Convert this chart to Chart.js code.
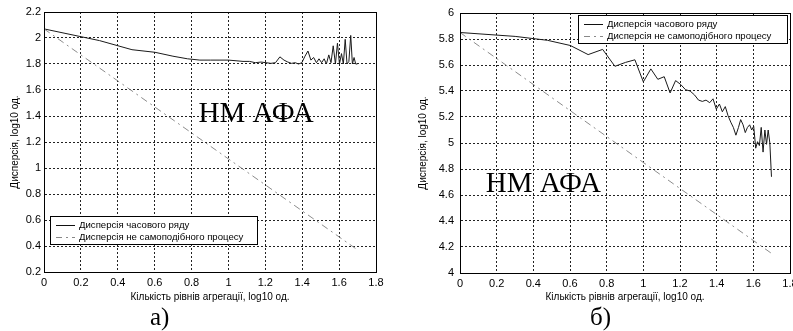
<!DOCTYPE html>
<html>
<head>
<meta charset="utf-8">
<script src="https://cdn.jsdelivr.net/npm/chart.js@4/dist/chart.umd.min.js"></script>
<style>
  body { margin: 0; background: #fff; }
  #wrap { position: relative; width: 793px; height: 331px; overflow: hidden; }
  #cA { position: absolute; left: 0; top: 0; }
  #cB { position: absolute; left: 395px; top: 0; }
  .cap { position: absolute; top: 303px; font: 25px "Liberation Serif", serif; color: #000; }
</style>
</head>
<body>
<div id="wrap">
  <canvas id="cA" width="395" height="331"></canvas>
  <canvas id="cB" width="425" height="331"></canvas>
  <div class="cap" style="left:150px">а)</div>
  <div class="cap" style="left:590px">б)</div>
</div>
<script>
// log10 of aggregation level m = 1..50
const levelsX = [0, 0.301, 0.477, 0.602, 0.699, 0.778, 0.845, 0.903, 0.954, 1.0,
  1.041, 1.079, 1.114, 1.146, 1.176, 1.204, 1.230, 1.255, 1.279, 1.301,
  1.322, 1.342, 1.362, 1.380, 1.398, 1.415, 1.431, 1.447, 1.462, 1.477,
  1.491, 1.505, 1.519, 1.531, 1.544, 1.556, 1.568, 1.580, 1.591, 1.602,
  1.613, 1.623, 1.633, 1.643, 1.653, 1.663, 1.672, 1.681, 1.690, 1.699];

// а) variance of time series
const varA = [2.07, 1.98, 1.91, 1.89, 1.86, 1.84, 1.83, 1.83, 1.83, 1.83,
  1.825, 1.82, 1.82, 1.81, 1.815, 1.81, 1.805, 1.81, 1.855, 1.83,
  1.815, 1.805, 1.81, 1.80, 1.81, 1.86, 1.90, 1.83, 1.85, 1.81,
  1.84, 1.81, 1.84, 1.80, 1.87, 1.81, 1.94, 1.80, 1.96, 1.80,
  1.88, 1.80, 1.99, 1.80, 1.82, 2.02, 1.80, 1.85, 1.80, 1.80];

// б) variance of time series
const varB = [5.85, 5.82, 5.79, 5.75, 5.68, 5.72, 5.59, 5.62, 5.64, 5.47,
  5.57, 5.49, 5.51, 5.385, 5.48, 5.45, 5.41, 5.40, 5.37, 5.33,
  5.32, 5.33, 5.31, 5.34, 5.26, 5.30, 5.24, 5.28, 5.21, 5.16,
  5.12, 5.06, 5.12, 5.18, 5.14, 5.08, 5.12, 5.14, 5.10, 5.13,
  4.96, 5.01, 4.98, 5.12, 4.93, 5.10, 4.99, 5.10, 5.00, 4.74];

// variance of non self-similar process (straight line ends)
const refX = [0, 1.7];
const refA = [2.07, 0.37];
const refB = [5.85, 4.15];

const xTicks = [0, 0.2, 0.4, 0.6, 0.8, 1, 1.2, 1.4, 1.6, 1.8];
const seriesNames = ['Дисперсія часового ряду', 'Дисперсія не самоподібного процесу'];
const xTitle = 'Кількість рівнів агрегації, log10 од.';
const yTitle = 'Дисперсія, log10 од.';
const label = 'НМ АФА';

const tickFont = { family: 'Liberation Sans, Arial, sans-serif', size: 11 };
const titleFont = { family: 'Liberation Sans, Arial, sans-serif', size: 10 };
const fmt = (v) => String(Number(v.toFixed(1)));

const boxPlugin = {
  id: 'boxPlugin',
  afterDraw(chart, args, opts) {
    const { ctx, chartArea: a, scales } = chart;
    ctx.save();
    ctx.strokeStyle = '#000';
    ctx.lineWidth = 1;
    ctx.setLineDash([]);
    ctx.strokeRect(Math.round(a.left) + 0.5, Math.round(a.top) + 0.5,
      Math.round(a.right - a.left), Math.round(a.bottom - a.top));

    // text label
    ctx.fillStyle = '#000';
    ctx.font = '29px "Liberation Serif", serif';
    ctx.textAlign = 'center';
    ctx.textBaseline = 'middle';
    ctx.fillText(label, scales.x.getPixelForValue(opts.textX), scales.y.getPixelForValue(opts.textY));

    // legend
    const w = opts.legW, h = 28;
    const lx = opts.legRight ? a.right - 3 - w : a.left + 6;
    const ly = opts.legRight ? a.top + 2 : a.bottom - 28 - h;
    ctx.fillStyle = '#fff';
    ctx.fillRect(lx, ly, w, h);
    ctx.strokeStyle = '#000';
    ctx.strokeRect(Math.round(lx) + 0.5, Math.round(ly) + 0.5, w, h);
    ctx.font = '9.6px "Liberation Sans", Arial, sans-serif';
    ctx.textAlign = 'left';
    const rows = [ly + 9, ly + 21];
    ctx.lineWidth = 1;
    ctx.strokeStyle = '#111';
    ctx.beginPath(); ctx.moveTo(lx + 6, rows[0] + 0.5); ctx.lineTo(lx + 25, rows[0] + 0.5); ctx.stroke();
    ctx.strokeStyle = '#888';
    ctx.setLineDash([6, 4, 2, 4]);
    ctx.beginPath(); ctx.moveTo(lx + 6, rows[1] + 0.5); ctx.lineTo(lx + 25, rows[1] + 0.5); ctx.stroke();
    ctx.setLineDash([]);
    ctx.fillStyle = '#000';
    ctx.fillText(seriesNames[0], lx + 29, rows[0]);
    ctx.fillText(seriesNames[1], lx + 29, rows[1]);
    ctx.restore();
  }
};

function makeChart(id, series, ref, yMin, yMax, o) {
  new Chart(document.getElementById(id), {
    type: 'scatter',
    data: {
      datasets: [
        {
          label: seriesNames[1],
          data: refX.map((x, i) => ({ x, y: ref[i] })),
          showLine: true,
          borderColor: '#8c8c8c',
          borderWidth: 1,
          borderDash: [7, 4, 2, 4],
          pointRadius: 0,
        },
        {
          label: seriesNames[0],
          data: levelsX.map((x, i) => ({ x, y: series[i] })),
          showLine: true,
          borderColor: '#1a1a1a',
          borderWidth: 1,
          pointRadius: 0,
        },
      ],
    },
    options: {
      responsive: false,
      animation: false,
      layout: { padding: { left: 0, top: o.top, right: o.right, bottom: 0 } },
      plugins: {
        legend: { display: false },
        tooltip: { enabled: false },
        boxPlugin: o.box,
      },
      scales: {
        x: {
          type: 'linear',
          min: 0,
          max: 1.8,
          afterBuildTicks: (s) => { s.ticks = xTicks.map((v) => ({ value: v })); },
          afterFit: (s) => { s.height = o.xh; },
          grid: { color: '#222', drawTicks: false },
          border: { display: true, color: '#000', dash: [2, 2] },
          ticks: { color: '#000', font: tickFont, padding: 4, maxRotation: 0, autoSkip: false, callback: fmt },
          title: { display: true, text: xTitle, color: '#000', font: titleFont, padding: { top: 0, bottom: 28 } },
        },
        y: {
          min: yMin,
          max: yMax,
          ticks: { stepSize: 0.2, color: '#000', font: tickFont, padding: o.yPad, callback: fmt },
          afterFit: (s) => { s.width = o.yw; },
          grid: { color: '#222', drawTicks: false },
          border: { display: true, color: '#000', dash: [2, 2] },
          title: { display: true, text: yTitle, color: '#000', font: titleFont, padding: { top: o.yTitlePad, bottom: 0 } },
        },
      },
    },
    plugins: [boxPlugin],
  });
}

Chart.defaults.scale.grid.borderDash = [2, 2];

makeChart('cA', varA, refA, 0.2, 2.2, {
  top: 12, right: 19, xh: 59, yw: 44, yPad: 3, yTitlePad: 9,
  box: { textX: 1.15, textY: 1.41, legRight: false, legW: 207 },
});
makeChart('cB', varB, refB, 4, 6, {
  top: 13, right: 30, xh: 58, yw: 65, yPad: 6, yTitlePad: 22,
  box: { textX: 0.455, textY: 4.68, legRight: true, legW: 209 },
});
</script>
</body>
</html>
